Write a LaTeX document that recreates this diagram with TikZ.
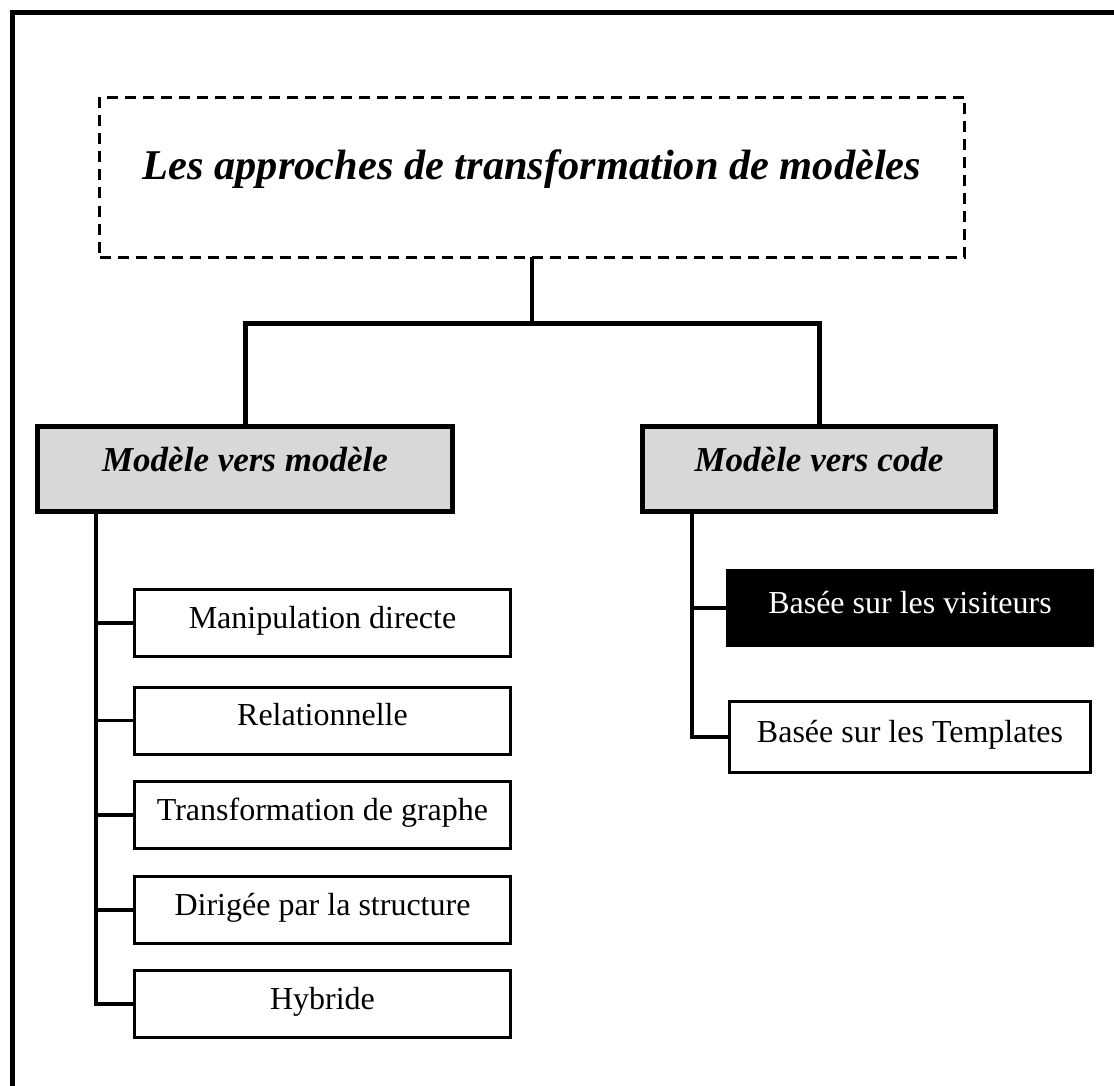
\documentclass[tikz,border=0pt]{standalone}
\usepackage{fontspec}
\setmainfont{Liberation Serif}
\definecolor{boxgray}{RGB}{216,216,216}
\begin{document}
\begin{tikzpicture}[x=1pt,y=-1pt,
  every node/.style={inner sep=0pt,outer sep=0pt},
  titlebox/.style={draw, dash pattern=on 11pt off 7pt, line width=2.5pt,
    minimum width=865pt, minimum height=160pt, text height=30pt, text depth=25pt,
    font=\fontsize{42.4}{50}\selectfont\bfseries\itshape},
  groupbox/.style={draw, fill=boxgray, line width=5pt, minimum height=85pt,
    text height=26pt, text depth=21pt,
    font=\fontsize{35}{42}\selectfont\bfseries\itshape},
  leafbox/.style={draw, line width=3pt, minimum width=376pt, minimum height=67pt,
    text height=22pt, text depth=12pt, font=\fontsize{32}{38}\selectfont},
  darkbox/.style={leafbox, fill=black, text=white},
  conn/.style={line width=3.5pt},
  mainbar/.style={line width=5pt},
]
\useasboundingbox (0,0) rectangle (1114,1086);
\fill[white] (0,0) rectangle (1114,1086);

% page frame (left and top edges)
\draw[line width=5pt] (12.5,1086) -- (12.5,12.5) -- (1114,12.5);

% root
\node[titlebox] (title) at (532,177.5) {Les approches de transformation de modèles};

% the two families
\node[groupbox, minimum width=415pt] (mm) at (245,468.5) {Modèle vers modèle};
\node[groupbox, minimum width=353pt] (mc) at (819,468.5) {Modèle vers code};

% model-to-model approaches
\node[leafbox] (man) at (322.5,623) {Manipulation directe};
\node[leafbox] (rel) at (322.5,720.5) {Relationnelle};
\node[leafbox] (tra) at (322.5,815) {Transformation de graphe};
\node[leafbox] (dir) at (322.5,910) {Dirigée par la structure};
\node[leafbox] (hyb) at (322.5,1004) {Hybride};

% model-to-code approaches
\node[darkbox, minimum width=365pt, minimum height=75pt] (vis) at (910,608) {Basée sur les visiteurs};
\node[leafbox, minimum width=361pt, minimum height=71pt] (tpl) at (910,737) {Basée sur les Templates};

% root to families
\coordinate (j) at (532,323);
\draw[conn] (title.south) -- (j);
\draw[mainbar] (mm.north) |- (j) -| (mc.north);

% left branch
\coordinate (ls) at (96,511);
\draw[conn] (ls) |- (hyb.west);
\foreach \n in {man,rel,tra,dir}
  \draw[conn] (ls |- \n.west) -- (\n.west);

% right branch
\coordinate (rs) at (692,512);
\draw[conn] (rs) |- (tpl.west);
\draw[conn] (rs |- vis.west) -- (vis.west);
\end{tikzpicture}
\end{document}
